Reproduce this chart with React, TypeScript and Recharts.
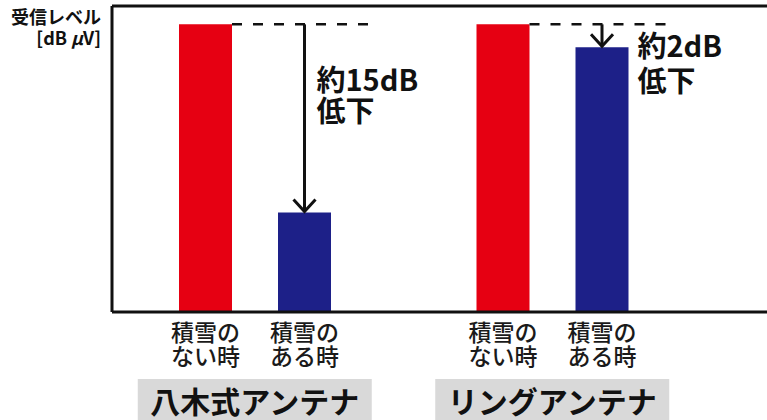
import { Bar, BarChart, LabelList, ReferenceLine, XAxis, YAxis } from "recharts";

const antennas = ["八木式アンテナ", "リングアンテナ"];
const levelNoSnow = [94, 94];
const levelWithSnow = [32.5, 86.5];
const dropLabels = ["約15dB", "約2dB"];
const conditionNoSnow = ["積雪の", "ない時"];
const conditionWithSnow = ["積雪の", "ある時"];
const yMax = 100;

const FONT = '"Noto Sans CJK JP", "Noto Sans", sans-serif';
const RED = "#E60012";
const NAVY = "#1D2088";
const INK = "#111111";
const BAR_SIZE = 53;
const BAR_GAP = 46;

const data = antennas.map((name, i) => ({
  name,
  noSnow: levelNoSnow[i],
  withSnow: levelWithSnow[i],
}));

function box(props: any) {
  const vb = props.viewBox && props.viewBox.width !== undefined ? props.viewBox : props;
  return { x: +vb.x, y: +vb.y, width: +vb.width, height: +vb.height };
}

// two-line condition text under each bar
function conditionLabel(lines: string[]) {
  return (props: any) => {
    const { x, y, width, height } = box(props);
    const cx = x + width / 2;
    const base = y + height;
    return (
      <text textAnchor="middle" fontFamily={FONT} fontWeight={500} fontSize={23} fill="#1a1a1a">
        <tspan x={cx} y={base + 29}>{lines[0]}</tspan>
        <tspan x={cx} y={base + 53}>{lines[1]}</tspan>
      </text>
    );
  };
}

// dashed reference from the no-snow level + arrow down to the snow bar
function DropMarker(props: any) {
  const { x, y, width, height } = box(props);
  const i = props.index ?? 0;
  const value = levelWithSnow[i];
  const ref = levelNoSnow[i];
  const base = y + height;
  const refY = base - (ref * height) / value;
  const cx = x + width / 2;
  const long = y - refY > 100;
  const tx = long ? cx + 12 : x + width + 9;
  const ty = long ? refY + 67 : refY + 33;
  return (
    <g>
      <line
        x1={x - BAR_GAP}
        y1={refY}
        x2={x + width + 43}
        y2={refY}
        stroke={INK}
        strokeWidth={2.5}
        strokeDasharray="10 11"
      />
      <line x1={cx} y1={refY} x2={cx} y2={y - 1} stroke={INK} strokeWidth={3} />
      <polyline
        points={`${cx - 11},${y - 13} ${cx},${y - 1} ${cx + 11},${y - 13}`}
        fill="none"
        stroke={INK}
        strokeWidth={3}
      />
      <text fontFamily={FONT} fontWeight={700} fontSize={29} fill={INK}>
        <tspan x={tx} y={ty}>{dropLabels[i]}</tspan>
        <tspan x={tx} y={ty + (long ? 31 : 35)}>低下</tspan>
      </text>
    </g>
  );
}

function AntennaTick({ x, y, payload }: any) {
  return (
    <g>
      <rect x={x - 117} y={y + 67} width={234} height={45} fill="#D9D9D9" />
      <text
        x={x}
        y={y + 101}
        textAnchor="middle"
        fontFamily={FONT}
        fontWeight={700}
        fontSize={30}
        fill={INK}
      >
        {payload.value}
      </text>
    </g>
  );
}

function AxisTitle(props: any) {
  const { x, y, width } = box(props);
  const right = x + width - 11;
  return (
    <text textAnchor="end" fontFamily={FONT} fontWeight={700} fontSize={18} fill={INK}>
      <tspan x={right} y={y + 18}>受信レベル</tspan>
      <tspan x={right} y={y + 39}>[dB <tspan fontStyle="italic">μ</tspan>V]</tspan>
    </text>
  );
}

export default function App() {
  return (
    <div style={{ position: "absolute", left: 0, top: 0, background: "#fff" }}>
      <BarChart
        width={767}
        height={420}
        data={data}
        margin={{ top: 6, right: 0, left: 52, bottom: 0 }}
        barSize={BAR_SIZE}
        barGap={BAR_GAP}
      >
        <XAxis
          dataKey="name"
          height={108}
          padding={{ left: -6, right: 66 }}
          axisLine={{ stroke: INK, strokeWidth: 3 }}
          tickLine={false}
          tickSize={0}
          tickMargin={0}
          tick={<AntennaTick />}
          interval={0}
        />
        <YAxis
          width={60}
          domain={[0, yMax]}
          tick={false}
          tickLine={false}
          axisLine={{ stroke: INK, strokeWidth: 3 }}
          label={{ content: AxisTitle }}
        />
        <ReferenceLine y={yMax} stroke={INK} strokeWidth={3} />
        <Bar dataKey="noSnow" fill={RED} isAnimationActive={false}>
          <LabelList dataKey="noSnow" content={conditionLabel(conditionNoSnow)} />
        </Bar>
        <Bar dataKey="withSnow" fill={NAVY} isAnimationActive={false}>
          <LabelList dataKey="withSnow" content={conditionLabel(conditionWithSnow)} />
          <LabelList dataKey="withSnow" content={DropMarker} />
        </Bar>
      </BarChart>
    </div>
  );
}
